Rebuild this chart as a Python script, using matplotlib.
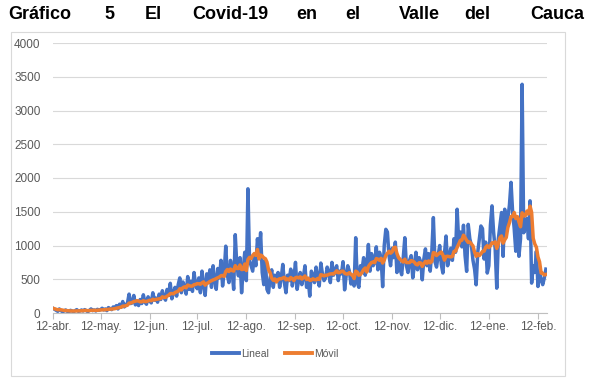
import matplotlib
matplotlib.use("Agg")
import matplotlib.pyplot as plt
from matplotlib.patches import Rectangle
from matplotlib.lines import Line2D
import numpy as np
import pandas as pd

# Daily cases, Valle del Cauca, 12-abr-2020 .. 17-feb-2021
apr = [70, 55, 40, 25, 60, 35, 20, 30, 45, 25, 15, 40, 30, 20, 35, 50, 25, 30, 45]
may = [30, 50, 35, 20, 40, 60, 35, 45, 30, 55, 40, 50, 70, 45, 60, 35, 80, 65, 50, 90,
       70, 110, 60, 130, 85, 170, 90, 120, 150, 280, 140]
jun = [150, 260, 120, 180, 110, 200, 140, 270, 160, 130, 240, 180, 150, 300, 190, 220,
       160, 280, 200, 330, 240, 190, 350, 260, 440, 210, 300, 380, 250, 420]
jul = [520, 300, 460, 380, 280, 540, 350, 470, 320, 600, 410, 360, 520, 300, 620, 420,
       260, 580, 450, 640, 380, 700, 480, 350, 660, 520, 780, 400, 600, 990, 560]
aug = [450, 780, 620, 350, 1160, 700, 550, 820, 300, 650, 900, 480, 1840, 780, 700, 620,
       850, 700, 1100, 850, 1190, 600, 420, 780, 350, 300, 520, 640, 380, 560, 470]
sep = [600, 380, 520, 720, 450, 300, 560, 480, 650, 400, 520, 750, 350, 480, 600, 420,
       540, 700, 380, 500, 250, 620, 560, 450, 680, 520, 400, 740, 580, 480]
oct_ = [520, 680, 600, 450, 750, 560, 640, 700, 480, 620, 580, 760, 343, 560, 700, 620,
        430, 520, 400, 1115, 450, 380, 700, 640, 820, 560, 700, 1015, 620, 880, 700]
nov = [750, 980, 640, 900, 820, 390, 1000, 1240, 1200, 850, 700, 960, 820, 1050, 600, 780,
       650, 567, 820, 1115, 700, 600, 780, 850, 520, 700, 900, 640, 820, 760]
dec = [492, 800, 950, 700, 880, 620, 900, 1413, 760, 680, 850, 1000, 720, 592, 880, 1140,
       700, 820, 960, 780, 1100, 900, 1537, 1050, 1200, 980, 1300, 850, 617, 1313, 1100]
jan = [1000, 780, 650, 418, 900, 1100, 1289, 1250, 800, 1050, 592, 700, 1300, 1587, 1200,
       950, 368, 1100, 1300, 1488, 840, 1537, 1200, 1400, 1600, 1935, 1500, 1250, 915, 1400, 840]
feb = [1100, 3388, 1189, 1250, 1400, 1100, 1662, 443, 700, 600, 915, 393, 600, 493, 420,
       520, 650]

start_date = "2020-04-12"
window = 7
tick_labels = ["12-abr.", "12-may.", "12-jun.", "12-jul.", "12-ago.", "12-sep.",
               "12-oct.", "12-nov.", "12-dic.", "12-ene.", "12-feb."]
title_words = ["Gráfico", "5", "El", "Covid-19", "en", "el", "Valle", "del", "Cauca"]

values = apr + may + jun + jul + aug + sep + oct_ + nov + dec + jan + feb
dates = pd.date_range(start_date, periods=len(values), freq="D")
serie = pd.Series(values, index=dates)
movil = serie.rolling(window, min_periods=1).mean()

BLUE = "#4472C4"
ORANGE = "#ED7D31"
GREY_TXT = "#595959"
GRID = "#D9D9D9"

plt.rcParams["font.family"] = ["Liberation Sans", "DejaVu Sans"]

fig = plt.figure(figsize=(6.06, 3.90), dpi=100)
W, H = 606, 390

# chart area border
fig.patches.append(Rectangle((11 / W, 1 - 376 / H), (565 - 11) / W, (376 - 32) / H,
                             transform=fig.transFigure, fill=False,
                             edgecolor="#D9D9D9", linewidth=0.8))

# justified title, one word at a time
word_x = [8, 104, 145, 192, 296, 345, 399, 464, 530]
for w, x in zip(title_words, word_x):
    fig.text(x / W, 1 - 19 / H, w, fontsize=13, fontweight="bold",
             ha="left", va="baseline", color="black")

ax = fig.add_axes([53 / W, 1 - 313 / H, (547 - 53) / W, (313 - 43) / H])
ax.plot(serie.index, serie.values, color=BLUE, lw=2.5, solid_joinstyle="round", label="Lineal")
ax.plot(movil.index, movil.values, color=ORANGE, lw=2.5, solid_joinstyle="round", label="Móvil")

ax.set_ylim(0, 4000)
ax.set_yticks(np.arange(0, 4001, 500))
ax.set_xlim(dates[0], dates[0] + pd.Timedelta(days=311.7))
ticks = pd.date_range(start_date, periods=len(tick_labels), freq=pd.DateOffset(months=1))
ax.set_xticks(ticks)
ax.set_xticklabels(tick_labels)

ax.grid(axis="y", color=GRID, lw=0.8)
ax.set_axisbelow(True)
for s in ["top", "right", "left"]:
    ax.spines[s].set_visible(False)
ax.spines["bottom"].set_color("#BFBFBF")
ax.tick_params(axis="y", length=0, labelsize=8.5, labelcolor=GREY_TXT, pad=9)
ax.tick_params(axis="x", length=4, color="#BFBFBF", labelsize=8.5, labelcolor=GREY_TXT, pad=2)

handles = [Line2D([], [], color=BLUE, lw=2.8), Line2D([], [], color=ORANGE, lw=2.8)]
fig.legend(handles, ["Lineal", "Móvil"], loc="center", bbox_to_anchor=(275 / W, 1 - 354 / H),
           ncol=2, frameon=False, fontsize=7.5, handlelength=2.6, handletextpad=0.2,
           columnspacing=1.5, labelcolor=GREY_TXT)

fig.savefig("out.png", dpi=100, facecolor="white")
